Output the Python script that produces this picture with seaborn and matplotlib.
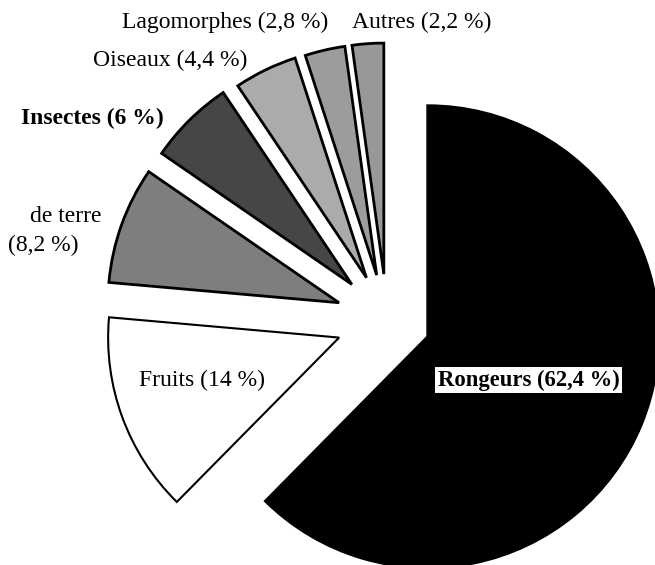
import matplotlib
matplotlib.use("Agg")
import matplotlib.pyplot as plt
import seaborn as sns

# Diet composition (% of items)
categories = ["Rongeurs", "Fruits", "Vers de terre", "Insectes", "Oiseaux", "Lagomorphes", "Autres"]
shares = [62.4, 14.0, 8.2, 6.0, 4.4, 2.8, 2.2]
share_labels = ["62,4", "14", "8,2", "6", "4,4", "2,8", "2,2"]

sns.set_theme(style="white")
plt.rcParams["font.family"] = ["Liberation Serif", "DejaVu Serif"]

W, H = 655, 565
fig = plt.figure(figsize=(W / 100, H / 100), dpi=100)
ax = fig.add_axes([0, 0, 1, 1])

fills = ["#000000", "#ffffff", "#7e7e7e", "#464646", "#ababab", "#9c9c9c", "#989898"]
offsets = [44, 51, 51, 50, 47, 46, 46]

wedges, _ = ax.pie(
    shares,
    startangle=90,
    counterclock=False,
    center=(387, H - 320),
    radius=231,
    explode=offsets,
    colors=fills,
    wedgeprops=dict(edgecolor="black", linewidth=2.0),
    frame=True,
)
ax.set_xlim(0, W)
ax.set_ylim(0, H)
ax.set_aspect("equal")
ax.axis("off")
wedges[1].set_linewidth(1.5)


def put(x, y, s, **kw):
    ax.text(x, H - y, s, va="center", color="black", **kw)


fs = 17
put(122, 22, f"Lagomorphes ({share_labels[5]} %)", ha="left", fontsize=fs)
put(352, 22, f"Autres ({share_labels[6]} %)", ha="left", fontsize=fs)
put(247, 60, f"Oiseaux ({share_labels[4]} %)", ha="right", fontsize=fs)
put(164, 118, f"Insectes ({share_labels[3]} %)", ha="right", fontsize=fs,
    fontweight="bold")
put(30, 217, "de terre", ha="left", fontsize=fs)
put(8, 245, f"({share_labels[2]} %)", ha="left", fontsize=fs)
put(139, 380, f"Fruits ({share_labels[1]} %)", ha="left", fontsize=fs)
ax.text(438, H - 380, f"Rongeurs ({share_labels[0]} %)", ha="left", va="center",
        fontsize=16.3, fontweight="bold", color="black",
        bbox=dict(facecolor="white", edgecolor="none", pad=2))

fig.savefig("out.png", dpi=100)
